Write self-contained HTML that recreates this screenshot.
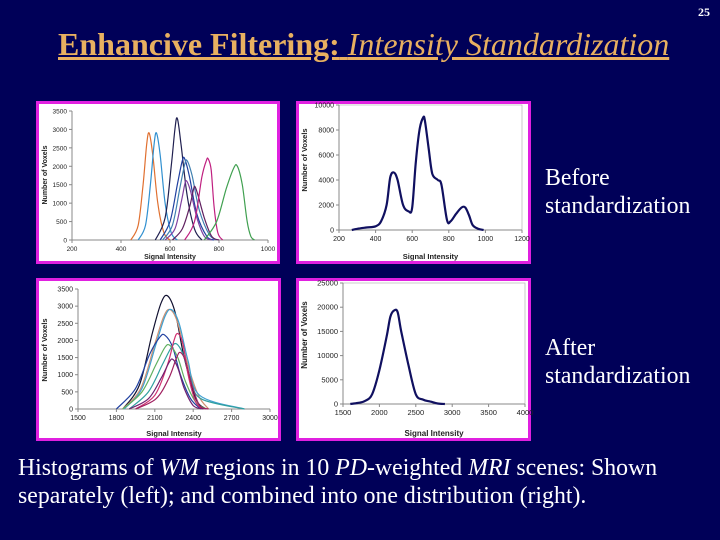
<!DOCTYPE html>
<html><head><meta charset="utf-8">
<style>
html,body{margin:0;padding:0;}
body{width:720px;height:540px;background:#000058;position:relative;overflow:hidden;font-family:"Liberation Serif",serif;}
.t{position:absolute;color:#fff;font-size:23.8px;line-height:28px;}
#title{position:absolute;left:58px;top:26px;font-size:32px;color:#e8b060;text-decoration:underline;white-space:nowrap;}
#pnum{position:absolute;left:698px;top:5px;font-size:12px;font-weight:bold;color:#fff;}
svg{position:absolute;left:0;top:0;}
</style></head>
<body>
<div id="pnum">25</div>
<div id="title"><b>Enhancive Filtering:</b> <i>Intensity Standardization</i></div>
<div class="t" style="left:545px;top:164px">Before<br>standardization</div>
<div class="t" style="left:545px;top:334px">After<br>standardization</div>
<div class="t" style="left:18px;top:454px;width:665px">Histograms of <i>WM</i> regions in 10 <i>PD</i>-weighted <i>MRI</i> scenes: Shown separately (left); and combined into one distribution (right).</div>
<svg id="s" width="720" height="540"></svg>
<script>
// ---- data ----
const p1XTicks=[200,400,600,800,1000];
const p1YTicks=[0,500,1000,1500,2000,2500,3000,3500];
const p1Colors=["#e07030","#3090d0","#202050","#2040a0","#4080b0","#8040a0","#602060","#c02080","#40a050"];
const p1X=[
[440,470,490,505,515,530,550,575,600],
[470,500,520,535,545,560,580,605,630],
[540,580,605,620,630,645,670,700,730],
[560,600,630,650,660,680,710,750,780],
[570,610,640,660,670,690,720,760,790],
[580,620,645,660,668,685,710,740,770],
[610,650,680,695,702,715,740,770,800],
[660,700,730,748,756,768,780,795,815],
[740,790,830,860,875,895,915,930,945]];
const p1Y=[
[0,400,1500,2600,2900,2300,1000,200,0],
[0,400,1500,2600,2900,2300,1000,200,0],
[0,600,2000,3000,3300,2600,1200,300,0],
[0,500,1500,2150,2200,1700,700,100,0],
[0,400,1400,2050,2150,1750,800,150,0],
[0,300,1000,1500,1600,1300,600,100,0],
[0,300,900,1350,1450,1200,600,100,0],
[0,500,1700,2150,2200,1900,900,200,0],
[0,500,1400,1950,2000,1500,500,100,0]];

const p2XTicks=[200,400,600,800,1000,1200];
const p2YTicks=[0,2000,4000,6000,8000,10000];
const p2X=[270,300,350,400,430,460,480,500,520,550,580,600,620,640,660,670,690,710,740,760,790,810,840,870,890,910,930,960,990];
const p2Y=[0,100,200,300,700,2000,4200,4600,4000,2000,1500,1800,5500,8000,9000,8700,6500,4500,4000,3600,800,700,1300,1800,1800,1200,400,100,0];

const p3XTicks=[1500,1800,2100,2400,2700,3000];
const p3YTicks=[0,500,1000,1500,2000,2500,3000,3500];
const p3Colors=["#101030","#d09070","#40a0d0","#2040a0","#30a0a0","#60b060","#d03070","#a02060","#702070"];
const p3X=[
[1850,1980,2080,2150,2200,2260,2330,2420,2500],
[1850,1990,2100,2170,2220,2280,2350,2440,2520],
[1860,2000,2110,2180,2230,2290,2360,2450,2800],
[1800,1950,2060,2140,2180,2240,2300,2380,2460],
[1900,2050,2160,2230,2270,2320,2380,2460,2800],
[1850,2000,2110,2180,2220,2280,2340,2420,2500],
[1950,2100,2200,2250,2280,2320,2360,2420,2480],
[1950,2110,2210,2270,2300,2340,2390,2450,2520],
[1900,2050,2150,2210,2240,2280,2330,2400,2480]];
const p3Y=[
[0,700,2200,3100,3300,2800,1500,300,0],
[0,600,1900,2700,2900,2500,1400,400,0],
[0,600,1900,2700,2900,2500,1400,400,0],
[0,600,1600,2100,2150,1800,1000,300,0],
[0,500,1300,1800,1900,1600,900,300,0],
[0,500,1300,1800,1850,1500,800,200,0],
[0,400,1300,2000,2200,1900,1000,200,0],
[0,300,900,1500,1650,1400,700,100,0],
[0,300,900,1350,1450,1200,600,100,0]];

const p4XTicks=[1500,2000,2500,3000,3500,4000];
const p4YTicks=[0,5000,10000,15000,20000,25000];
const p4X=[1600,1700,1800,1900,2000,2100,2150,2200,2250,2300,2400,2500,2600,2700,2800,2900];
const p4Y=[0,200,600,2000,7000,14000,18000,19300,19000,15000,8000,2000,900,500,100,0];

// ---- drawing ----
const NS="http://www.w3.org/2000/svg";
const svg=document.getElementById('s');
function mk(tag,attrs,parent){const e=document.createElementNS(NS,tag);for(const k in attrs)e.setAttribute(k,attrs[k]);(parent||svg).appendChild(e);return e;}
function path(pts){let d="M"+pts[0][0].toFixed(1)+","+pts[0][1].toFixed(1);
 for(let i=0;i<pts.length-1;i++){const p0=pts[Math.max(i-1,0)],p1=pts[i],p2=pts[i+1],p3=pts[Math.min(i+2,pts.length-1)];
  const c1=[p1[0]+(p2[0]-p0[0])/6,p1[1]+(p2[1]-p0[1])/6],c2=[p2[0]-(p3[0]-p1[0])/6,p2[1]-(p3[1]-p1[1])/6];
  d+=" C"+c1[0].toFixed(1)+","+c1[1].toFixed(1)+" "+c2[0].toFixed(1)+","+c2[1].toFixed(1)+" "+p2[0].toFixed(1)+","+p2[1].toFixed(1);}
 return d;}
function chart(name,c,xt,yt,xs,ys,colors,sw,ytitleTop){
 const g=mk('g',{});
 
 
 const fr=mk('rect',{x:c.fx+1.5,y:c.fy+1.5,width:c.fw-3,height:c.fh-3,fill:'#fff',stroke:'#e020e0','stroke-width':3},g);
 
 
 const xmin=xt[0],xmax=xt[xt.length-1],ymax=yt[yt.length-1];
 const X=v=>c.x0+(v-xmin)/(xmax-xmin)*(c.x1-c.x0);
 const Y=v=>c.y0-(v/ymax)*(c.y0-c.y1);
 if(c.box){mk('path',{d:`M${c.x0},${c.y1}H${c.x1}V${c.y0}`,fill:'none',stroke:'#bbb','stroke-width':0.8},g);}
 mk('line',{x1:c.x0,y1:c.y0,x2:c.x1,y2:c.y0,stroke:'#888','stroke-width':1},g);
 mk('line',{x1:c.x0,y1:c.y0,x2:c.x0,y2:c.y1,stroke:'#888','stroke-width':1},g);
 xt.forEach(v=>{mk('line',{x1:X(v),y1:c.y0,x2:X(v),y2:c.y0+3,stroke:'#888'},g);
  const t=mk('text',{x:X(v),y:c.y0+11,'font-size':c.fs,'text-anchor':'middle','font-family':'Liberation Sans, sans-serif',fill:'#222'},g);t.textContent=v;
  });
 yt.forEach(v=>{mk('line',{x1:c.x0-3,y1:Y(v),x2:c.x0,y2:Y(v),stroke:'#888'},g);
  const t=mk('text',{x:c.x0-5,y:Y(v)+2.5,'font-size':c.fs,'text-anchor':'end','font-family':'Liberation Sans, sans-serif',fill:'#222'},g);t.textContent=v;
  });
 const xtl=mk('text',{x:(c.x0+c.x1)/2,y:c.fy+c.fh-5,'font-size':c.fs+0.5,'font-weight':'bold','text-anchor':'middle','font-family':'Liberation Sans, sans-serif',fill:'#222'},g);
 xtl.textContent='Signal Intensity';
 
 const yx=c.fx+11,yy=ytitleTop;
 const ytl=mk('text',{x:yx,y:yy,'font-size':c.fs+0.5,'font-weight':'bold','text-anchor':'middle','font-family':'Liberation Sans, sans-serif',fill:'#222',transform:`rotate(-90 ${yx} ${yy})`},g);
 ytl.textContent='Number of Voxels';
 
 xs.forEach((arr,i)=>{const pts=arr.map((v,j)=>[X(v),Y(ys[i][j])]);
  const p=mk('path',{d:path(pts),fill:'none',stroke:colors[i],'stroke-width':sw,'stroke-linejoin':'round'},g);
  });
}
chart('separate-histograms-before',{fx:36,fy:101,fw:244,fh:163,x0:72,x1:268,y0:240,y1:111,fs:6.5},p1XTicks,p1YTicks,p1X,p1Y,p1Colors,1.2,175);
chart('combined-histogram-before',{fx:296,fy:101,fw:235,fh:163,x0:339,x1:522,y0:230,y1:105,fs:7,box:true},p2XTicks,p2YTicks,[p2X],[p2Y],["#101060"],2.2,160);
chart('separate-histograms-after',{fx:36,fy:278,fw:245,fh:163,x0:78,x1:270,y0:409,y1:289,fs:7},p3XTicks,p3YTicks,p3X,p3Y,p3Colors,1.2,350);
chart('combined-histogram-after',{fx:296,fy:278,fw:235,fh:163,x0:343,x1:525,y0:404,y1:283,fs:7.5,box:true},p4XTicks,p4YTicks,[p4X],[p4Y],["#101060"],2.2,335);
</script>
</body></html>
